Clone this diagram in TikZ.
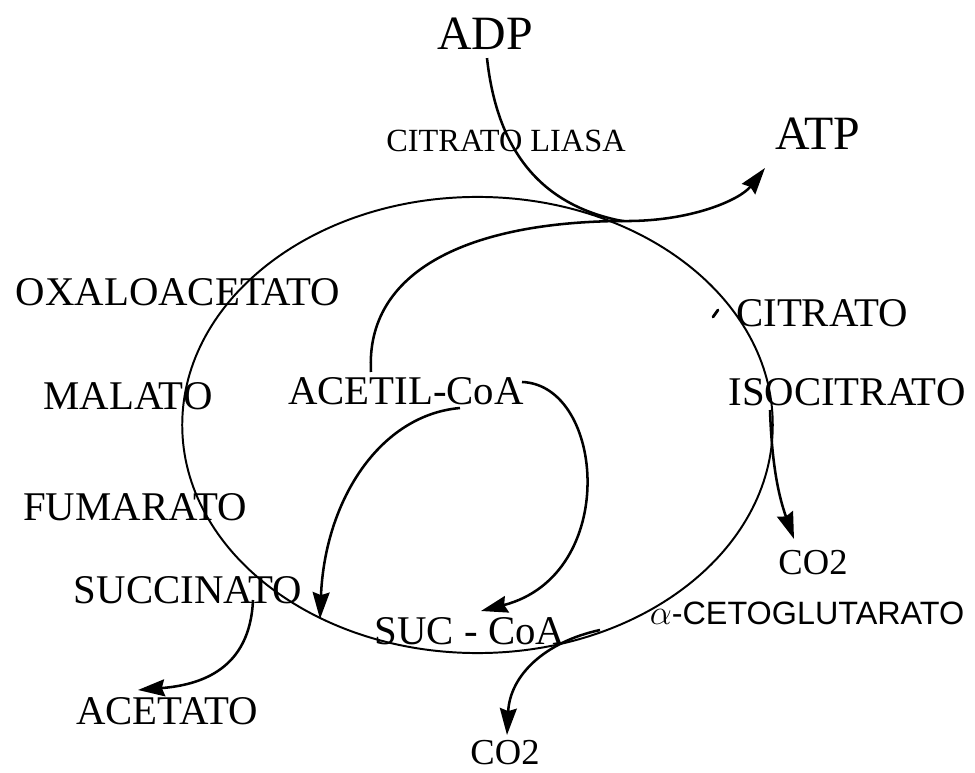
\documentclass[tikz,border=0pt]{standalone}
\usepackage{fontspec}
\setmainfont{Liberation Serif}
\newfontfamily\cetofont{Liberation Sans}
\usepackage{tikz}
\usetikzlibrary{arrows.meta, positioning, calc}

\tikzset{
  metab/.style={inner sep=0pt, font=\fontsize{29}{30}\selectfont},
  nucl/.style={inner sep=0pt, font=\fontsize{34}{36}\selectfont},
  enzyme/.style={inner sep=0pt, font=\fontsize{23}{24}\selectfont},
  gas/.style={inner sep=0pt, font=\fontsize{26}{27}\selectfont},
  flux/.style={line width=1.8pt, -{Stealth[length=19pt, width=12pt, inset=2pt]}},
  link/.style={line width=1.8pt}
}

\begin{document}
\begin{tikzpicture}[x=0.025cm, y=-0.025cm]

  \useasboundingbox (0,0) rectangle (975,773);

  % --- Cycle ---
  \draw[line width=1.4pt] (477.5,425) ellipse [x radius=7.38cm, y radius=5.7cm];

  % --- Labels ---
  \node[nucl] (adp) at (485,34) {ADP};
  \node[nucl] (atp) at (818,134) {ATP};
  \node[enzyme] (liasa) at (506,141) {CITRATO LIASA};

  \node[metab] (oxal) at (178,292) {OXALOACETATO};
  \node[metab] (citr) at (822,313) {CITRATO};
  \node[metab] (isoc) at (847,392) {ISOCITRATO};
  \node[metab] (mal) at (128,396) {MALATO};
  \node[metab] (acoa) at (406,391) {ACETIL-CoA};
  \node[metab] (fum) at (135,507) {FUMARATO};
  \node[metab] (succ) at (188,590) {SUCCINATO};
  \node[metab] (scoa) at (470,631) {SUC - CoA};
  \node[metab] (acet) at (167,711) {ACETATO};

  \node[gas] (coa) at (813,563) {CO2};
  \node[gas] (cob) at (505,753) {CO2};
  \node[inner sep=0pt, font=\cetofont\fontsize{23}{25}\selectfont] (ceto)
    at (807,613) {$\alpha$-CETOGLUTARATO};

  % --- Junction points ---
  \coordinate (jn) at (622,221);
  \coordinate (atptip) at (765,168);
  \coordinate (acetop) at (371,372);
  \coordinate (acoaR) at (522,382);
  \coordinate (acoaB) at (460,408);
  \coordinate (isocB) at (770,410);
  \coordinate (succB) at (253,600);
  \coordinate (scoaR) at (600,630);

  % --- ADP -> ATP, with acetil-CoA joining ---
  \draw[link] (adp.south) ++(2,8) .. controls (497,150) and (540,205) .. (jn);
  \draw[link] (acetop) .. controls (365,270) and (470,222) .. (jn);
  \draw[flux] (jn) .. controls (690,222) and (740,200) .. (atptip);

  % --- Acetil-CoA branches ---
  \draw[flux] (acoaR) .. controls (605,385) and (620,575) .. (481,611);
  \draw[flux] (acoaB) .. controls (380,415) and (325,500) .. (320,619);

  % --- Decarboxylations ---
  \draw[flux] (isocB) .. controls (772,470) and (780,500) .. (794,539);
  \draw[flux] (scoaR) .. controls (545,642) and (510,675) .. (507,735);

  % --- Succinato -> acetato ---
  \draw[flux] (succB) .. controls (250,670) and (200,685) .. (138,690);

  % --- small mark near citrato ---
  \draw[line width=2pt, line cap=round] (713,317) -- (718,310);

\end{tikzpicture}
\end{document}
